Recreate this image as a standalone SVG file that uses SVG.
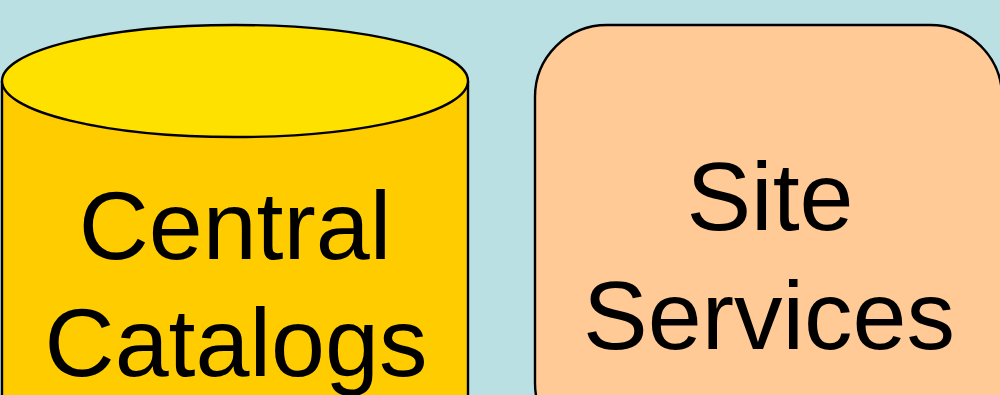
<svg xmlns="http://www.w3.org/2000/svg" width="1000" height="395" viewBox="0 0 1000 395">
  <style>
    .outline { stroke: #000; stroke-width: 2.4; }
    .label { font-family: "Liberation Sans", Arial, sans-serif; font-size: 97px; fill: #000; text-anchor: middle; }
  </style>
  <rect width="1000" height="395" fill="#BBE0E3"/>
  <g id="connectors"/>
  <g id="central-catalogs">
    <!-- cylinder body -->
    <path class="outline" fill="#FFCC00" d="M2,81 L2,420 L468,420 L468,81"/>
    <!-- cylinder lid -->
    <ellipse class="outline" fill="#FFE100" cx="235" cy="81" rx="233" ry="56"/>
    <text class="label" x="235" y="259">Central</text>
    <text class="label" x="236" y="376">Catalogs</text>
  </g>
  <g id="site-services">
    <rect class="outline" fill="#FFCA96" x="535" y="25" width="467" height="430" rx="72" ry="72"/>
    <text class="label" x="770" y="230">Site</text>
    <text class="label" x="769" y="349">Services</text>
  </g>
</svg>
